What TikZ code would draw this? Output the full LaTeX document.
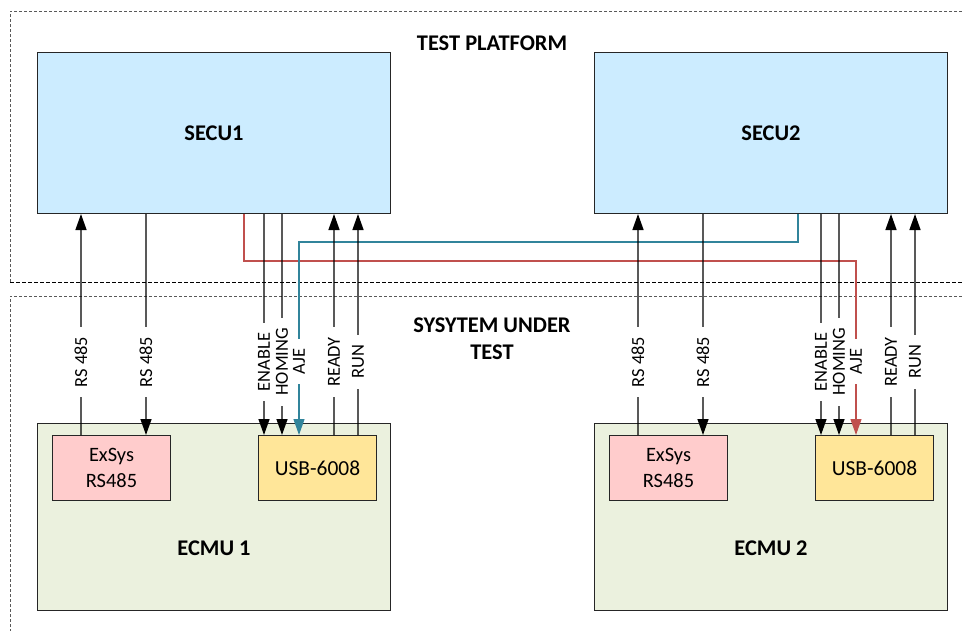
\documentclass[tikz,border=0pt]{standalone}
\usepackage{fontspec}
\setmainfont{Carlito}
\usetikzlibrary{arrows.meta, calc, positioning}

\definecolor{secublue}{RGB}{204,236,255}
\definecolor{ecmugreen}{RGB}{235,241,222}
\definecolor{exsyspink}{RGB}{255,204,204}
\definecolor{usbyellow}{RGB}{255,230,153}
\definecolor{ajered}{RGB}{192,80,77}
\definecolor{ajeteal}{RGB}{49,132,155}

\begin{document}
\begin{tikzpicture}[x=1bp, y=-1bp, >={Triangle[length=16bp, width=11bp]},
		frame/.style={black!65, line width=0.9bp, dash pattern=on 3bp off 2bp},
		box/.style={draw=black!85, line width=1bp, inner sep=0pt, anchor=north west, align=center, font=\fontsize{20.5}{26}\selectfont},
		title/.style={align=center, font=\bfseries\fontsize{22.5}{27}\selectfont},
		sig/.style={->, line width=1.4bp},
		lbl/.style={rotate=90, fill=white, inner xsep=10bp, inner ysep=0.6bp, font=\fontsize{18.5}{20}\selectfont}]
		\useasboundingbox (0,0) rectangle (962,631);
		
		% Frames
		\draw[frame] (962,11) -- (10,11) -- (10,282);
		\draw[frame, black, dash pattern=on 4bp off 2bp] (10,282) -- (962,282);
		\draw[frame] (962,296) -- (10,296) -- (10,631);
		\node[title] (tp) at (492,43) {TEST PLATFORM};
		\node[title] (sut) at (492,338.5) {SYSYTEM UNDER\\TEST};
		
		% The Units
		\node[box, fill=secublue, minimum width=353bp, minimum height=161bp, font=\bfseries\fontsize{22.5}{27}\selectfont] (secu1) at (37,52) {SECU1};
		\node[box, fill=secublue, minimum width=353bp, minimum height=161bp, font=\bfseries\fontsize{22.5}{27}\selectfont] (secu2) at (594,52) {SECU2};
		\node[box, fill=ecmugreen, minimum width=353bp, minimum height=187bp] (ecmu1) at (37,423) {};
		\node[box, fill=ecmugreen, minimum width=353bp, minimum height=187bp] (ecmu2) at (594,423) {};
		\node[title] (ecmu1name) at ([yshift=63bp]ecmu1.south) {ECMU 1};
		\node[title] (ecmu2name) at ([yshift=63bp]ecmu2.south) {ECMU 2};
		\node[box, fill=exsyspink, minimum width=118bp, minimum height=65bp] (exsys1) at (52,435) {ExSys\\RS485};
		\node[box, fill=usbyellow, minimum width=118bp, minimum height=65bp, font=\fontsize{21.5}{26}\selectfont] (usb1) at (258,435) {USB-6008};
		\node[box, fill=exsyspink, minimum width=118bp, minimum height=65bp] (exsys2) at (609,435) {ExSys\\RS485};
		\node[box, fill=usbyellow, minimum width=118bp, minimum height=65bp, font=\fontsize{21.5}{26}\selectfont] (usb2) at (815,435) {USB-6008};
		
		% Cross links
		\draw[->, ajered, line width=1.2bp] ([xshift=207bp]secu1.south west) -- ++(0,47) -| ([xshift=41bp]usb2.north west);
		\draw[->, ajeteal, line width=1.2bp] ([xshift=204bp]secu2.south west) -- ++(0,28) -| ([xshift=41bp]usb1.north west);
		\node[lbl] (aje1) at ([xshift=41bp, yshift=73.5bp]usb1.north west) {AJE};
		\node[lbl] (aje2) at ([xshift=41bp, yshift=73.5bp]usb2.north west) {AJE};
		
		% ECMU 1 <-> SECU1
		\draw[sig] ([xshift=29bp]exsys1.north west) -- ([xshift=44bp]secu1.south west) node[lbl, pos=0.331] (rs1a) {RS 485};
		\draw[sig] ([xshift=109bp]secu1.south west) -- ([xshift=94bp]exsys1.north west) node[lbl, pos=0.669] (rs1b) {RS 485};
		\draw[sig] ([xshift=227bp]secu1.south west) -- ([xshift=6bp]usb1.north west) node[lbl, pos=0.669] (en1) {ENABLE};
		\draw[sig] ([xshift=245bp]secu1.south west) -- ([xshift=24bp]usb1.north west) node[lbl, pos=0.669] (hom1) {HOMING};
		\draw[sig] ([xshift=76bp]usb1.north west) -- ([xshift=297bp]secu1.south west) node[lbl, pos=0.331] (rdy1) {READY};
		\draw[sig] ([xshift=100bp]usb1.north west) -- ([xshift=321bp]secu1.south west) node[lbl, pos=0.331] (run1) {RUN};
		
		% ECMU 2 <-> SECU2
		\draw[sig] ([xshift=29bp]exsys2.north west) -- ([xshift=44bp]secu2.south west) node[lbl, pos=0.331] (rs2a) {RS 485};
		\draw[sig] ([xshift=109bp]secu2.south west) -- ([xshift=94bp]exsys2.north west) node[lbl, pos=0.669] (rs2b) {RS 485};
		\draw[sig] ([xshift=227bp]secu2.south west) -- ([xshift=6bp]usb2.north west) node[lbl, pos=0.669] (en2) {ENABLE};
		\draw[sig] ([xshift=245bp]secu2.south west) -- ([xshift=24bp]usb2.north west) node[lbl, pos=0.669] (hom2) {HOMING};
		\draw[sig] ([xshift=76bp]usb2.north west) -- ([xshift=297bp]secu2.south west) node[lbl, pos=0.331] (rdy2) {READY};
		\draw[sig] ([xshift=100bp]usb2.north west) -- ([xshift=321bp]secu2.south west) node[lbl, pos=0.331] (run2) {RUN};
	\end{tikzpicture}
\end{document}
